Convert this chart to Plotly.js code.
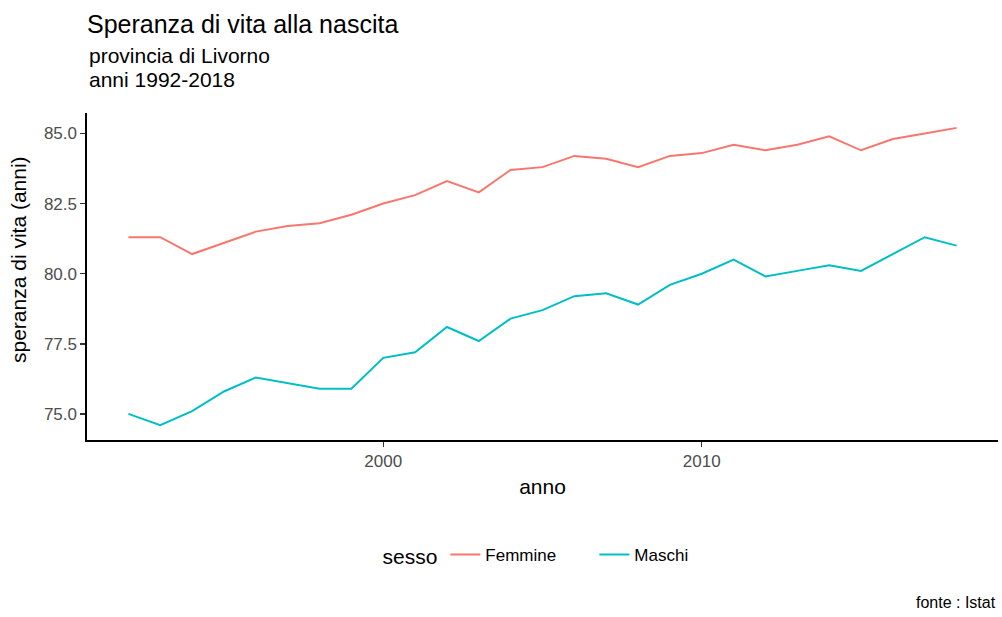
<!DOCTYPE html>
<html>
<head>
<meta charset="utf-8">
<script src="https://cdn.plot.ly/plotly-3.0.1.min.js"></script>
<style>html,body{margin:0;padding:0;background:#fff;}#chart{width:1002px;height:617px;}</style>
</head>
<body>
<div id="chart"></div>
<script>
const anni = [1992,1993,1994,1995,1996,1997,1998,1999,2000,2001,2002,2003,2004,2005,2006,2007,2008,2009,2010,2011,2012,2013,2014,2015,2016,2017,2018];
const femmine = [81.3,81.3,80.7,81.1,81.5,81.7,81.8,82.1,82.5,82.8,83.3,82.9,83.7,83.8,84.2,84.1,83.8,84.2,84.3,84.6,84.4,84.6,84.9,84.4,84.8,85.0,85.2];
const maschi = [75.0,74.6,75.1,75.8,76.3,76.1,75.9,75.9,77.0,77.2,78.1,77.6,78.4,78.7,79.2,79.3,78.9,79.6,80.0,80.5,79.9,80.1,80.3,80.1,80.7,81.3,81.0];
const serie = ["Femmine","Maschi"];
const colori = ["#F8766D","#00BFC4"];
const yTicks = [75,77.5,80,82.5,85];
const xTicks = [2000,2010];

const FONT = "Liberation Sans, Arial, sans-serif";
const traces = [femmine, maschi].map((v,i)=>({
  x: anni, y: v, type: "scatter", mode: "lines", name: serie[i],
  line: {color: colori[i], width: 2}
}));

const layout = {
  width: 1002, height: 617,
  margin: {l: 87, r: 4, t: 113, b: 177},
  paper_bgcolor: "#fff", plot_bgcolor: "#fff",
  font: {family: FONT, color: "#000"},
  title: {text: "Speranza di vita alla nascita", font: {size: 25, color: "#000", family: FONT},
          xref: "paper", x: 0, xanchor: "left", yref: "container", y: 1 - 24/617, yanchor: "middle"},
  xaxis: {range: [1990.7, 2019.3], tickvals: xTicks, ticktext: xTicks.map(String),
          showgrid: false, zeroline: false, showline: true, linecolor: "#000", linewidth: 1.6,
          ticks: "outside", ticklen: 5, tickwidth: 1.4, tickcolor: "#333",
          tickfont: {size: 17, color: "#4D4D4D"},
          title: {text: "anno", font: {size: 21, color: "#000"}, standoff: 9}},
  yaxis: {range: [74.07, 85.73], tickvals: yTicks, tickformat: ".1f",
          showgrid: false, zeroline: false, showline: true, linecolor: "#000", linewidth: 1.6,
          ticks: "outside", ticklen: 5, tickwidth: 1.4, tickcolor: "#333",
          tickfont: {size: 17, color: "#4D4D4D"}},
  legend: {orientation: "h", x: (562-87)/911, xanchor: "center", y: (440-556)/327, yanchor: "middle",
           entrywidth: 104, entrywidthmode: "pixels",
           title: {text: "sesso", side: "left", font: {size: 21, color: "#000"}},
           font: {size: 17, color: "#000"}},
  annotations: [
    {text: "speranza di vita (anni)", textangle: -90, xref: "paper", yref: "paper",
     x: (18-87)/911, y: (440-260)/327, xanchor: "center", yanchor: "middle", showarrow: false,
     font: {size: 21, color: "#000"}},
    {text: "provincia di Livorno", xref: "paper", yref: "paper", x: 0, y: (440-55)/327,
     xanchor: "left", yanchor: "middle", showarrow: false, font: {size: 21, color: "#000"}},
    {text: "anni 1992-2018", xref: "paper", yref: "paper", x: 0, y: (440-79)/327,
     xanchor: "left", yanchor: "middle", showarrow: false, font: {size: 21, color: "#000"}},
    {text: "fonte : Istat", xref: "paper", yref: "paper", x: 1, y: (440-602)/327,
     xanchor: "right", yanchor: "middle", showarrow: false, font: {size: 16, color: "#000"}}
  ]
};
Plotly.newPlot("chart", traces, layout, {displayModeBar: false, staticPlot: true});
</script>
</body>
</html>
